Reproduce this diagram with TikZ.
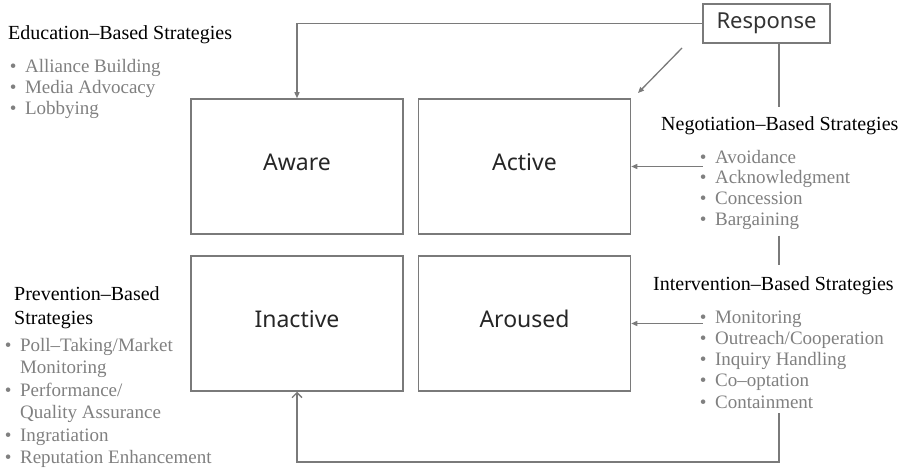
\documentclass[tikz,border=0pt]{standalone}
\usepackage{fontspec}
\setmainfont{Liberation Serif}
\newfontfamily\boxfont{Noto Sans}
\usetikzlibrary{arrows.meta}
\definecolor{linegray}{RGB}{122,122,122}
\definecolor{itemgray}{RGB}{128,128,128}
\newcommand{\fl}{\rule{0pt}{14pt}}
\newcommand{\ft}{\rule{0pt}{15pt}}
\newcommand{\bul}{•\hspace{0.45em}}
\newcommand{\ind}{\hphantom{\bul}}
\begin{document}
\begin{tikzpicture}[x=1pt,y=-1pt,
  stbox/.style={draw=linegray,line width=1.5pt,minimum width=212pt,minimum height=135pt,inner sep=0pt,
    font=\boxfont\fontsize{23}{26}\selectfont,text height=16.4pt,text depth=8pt,text=black!85},
  respbox/.style={draw=linegray,line width=1.5pt,minimum width=127pt,minimum height=39pt,inner sep=0pt,
    font=\boxfont\fontsize{22}{26}\selectfont,text=black!80},
  title/.style={inner sep=0pt,font=\fontsize{20}{24}\selectfont,text=black},
  items/.style={inner sep=0pt,anchor=north west,align=left,text=itemgray},
  ln/.style={draw=linegray,line width=1.3pt},
  arr/.style={ln,-{Triangle[length=6pt,width=5pt]}},
  openarr/.style={ln,-{Straight Barb[length=5pt,width=10pt]}}
]
\useasboundingbox (0,0) rectangle (904,468);

% state boxes
\node[stbox] (aware) at (297,166.5) {Aware};
\node[stbox] (active) at (524.5,166.5) {Active};
\node[stbox] (inactive) at (297,323.5) {Inactive};
\node[stbox] (aroused) at (524.5,323.5) {Aroused};

% response
\node[respbox] (resp) at (766.5,23.5) {Response};

% education
\node[title,anchor=base west] (edutitle) at (8,39.3) {Education–Based Strategies};
\node[items,font=\fontsize{19}{20.7}\selectfont] (edulist) at (9.7,58.7)
  {\fl\bul Alliance Building\\\bul Media Advocacy\\\bul Lobbying};

% negotiation
\node[title,anchor=base west] (negtitle) at (661,130) {Negotiation–Based Strategies};
\node[items,font=\fontsize{19}{20.7}\selectfont] (neglist) at (699.7,149)
  {\fl\bul Avoidance\\\bul Acknowledgment\\\bul Concession\\\bul Bargaining};

% intervention
\node[title,anchor=base west] (inttitle) at (653,290) {Intervention–Based Strategies};
\node[items,font=\fontsize{19}{21.2}\selectfont] (intlist) at (699.7,309)
  {\fl\bul Monitoring\\\bul Outreach/Cooperation\\\bul Inquiry Handling\\\bul Co–optation\\\bul Containment};

% prevention
\node[title,anchor=north west,align=left] (prevtitle) at (14,285) {\ft Prevention–Based\\Strategies};
\node[items,font=\fontsize{19}{22.5}\selectfont] (prevlist) at (4.7,337)
  {\fl\bul Poll–Taking/Market\\\ind Monitoring\\\bul Performance/\\\ind Quality Assurance\\\bul Ingratiation\\\bul Reputation Enhancement};

% helper coordinates
\coordinate (rx) at (779,0);
\coordinate (bot) at (0,462);
\coordinate (d1) at (682,48);
\coordinate (d2) at (638,93);

% connectors
\draw[arr] (resp.west) -| (aware.north);
\draw[arr] (d1) -- (d2);
\draw[ln,shorten >=9pt] (resp.south -| rx) -- (negtitle.north -| rx);
\draw[arr,shorten <=-3pt] (active.east -| neglist.west) -- (active.east);
\draw[ln,shorten <=6pt,shorten >=11pt] (neglist.south -| rx) -- (inttitle.north -| rx);
\draw[arr,shorten <=-3pt] (aroused.east -| intlist.west) -- (aroused.east);
\draw[openarr,shorten <=5pt] (intlist.south -| rx) -- (rx |- bot) -| (inactive.south);
\end{tikzpicture}
\end{document}
